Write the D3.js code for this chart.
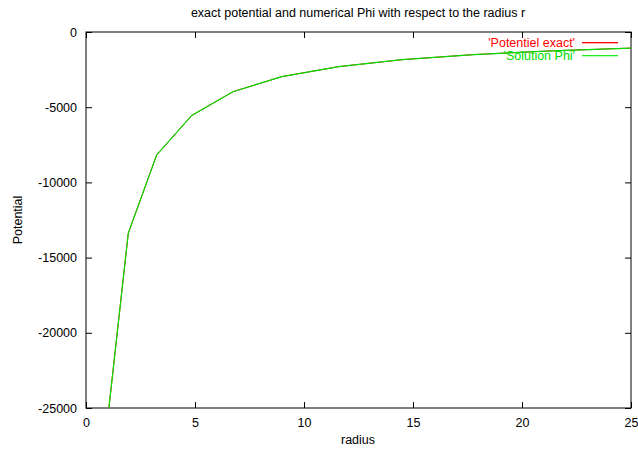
<!DOCTYPE html>
<html><head><meta charset="utf-8">
<script src="https://cdn.jsdelivr.net/npm/d3@7"></script>
<style>body{margin:0;background:#fff}svg{display:block}text{font-family:"Liberation Sans",Arial,sans-serif}</style>
</head><body><svg id="c" width="638" height="452"></svg>
<script>
const radius = [0.95, 1.94, 3.24, 4.85, 6.74, 8.98, 11.6, 14.5, 17.8, 21.4, 25.2];
const potentielExact = [-26300, -13380, -8180, -5550, -3970, -2970, -2300, -1840, -1500, -1250, -1060];
const solutionPhi = [-26300, -13370, -8175, -5545, -3968, -2968, -2298, -1838, -1498, -1249, -1059];
const xTicks = [0, 5, 10, 15, 20, 25];
const yTicks = [0, -5000, -10000, -15000, -20000, -25000];

const svg = d3.select("#c");
const L = 86, R = 631, T = 32, B = 408;
const x = d3.scaleLinear().domain([0, 25]).range([L, R]);
const y = d3.scaleLinear().domain([-25000, 0]).range([B, T]);
const fmt = d => String(d);

svg.append("defs").append("clipPath").attr("id", "clip")
  .append("rect").attr("x", L).attr("y", T).attr("width", R - L).attr("height", B - T);

const tl = 6, fs = 12.5;
svg.append("g").attr("transform", `translate(0,${B})`)
  .call(d3.axisBottom(x).tickValues(xTicks).tickSize(-tl).tickPadding(tl + 4).tickFormat(fmt))
  .call(g => { g.select(".domain").remove(); g.selectAll("text").attr("font-size", fs).attr("fill", "#000"); });
svg.append("g").attr("transform", `translate(0,${T})`)
  .call(d3.axisTop(x).tickValues(xTicks).tickSize(-tl).tickFormat(""))
  .call(g => g.select(".domain").remove());
svg.append("g").attr("transform", `translate(${L},0)`)
  .call(d3.axisLeft(y).tickValues(yTicks).tickSize(-tl).tickPadding(tl + 3).tickFormat(fmt))
  .call(g => { g.select(".domain").remove(); g.selectAll("text").attr("font-size", fs).attr("fill", "#000"); });
svg.append("g").attr("transform", `translate(${R},0)`)
  .call(d3.axisRight(y).tickValues(yTicks).tickSize(-tl).tickFormat(""))
  .call(g => g.select(".domain").remove());
svg.selectAll(".tick line").attr("stroke", "#000");

svg.append("rect").attr("x", L).attr("y", T).attr("width", R - L).attr("height", B - T)
  .attr("fill", "none").attr("stroke", "#000").attr("stroke-width", 1);

const line = d3.line().x((d, i) => x(radius[i])).y(d => y(d));
const plot = svg.append("g").attr("clip-path", "url(#clip)");
plot.append("path").datum(potentielExact).attr("d", line).attr("fill", "none").attr("stroke", "#ff0000").attr("stroke-width", 1);
plot.append("path").datum(solutionPhi).attr("d", line).attr("fill", "none").attr("stroke", "#00dd00").attr("stroke-width", 1.2);

const leg = [["'Potentiel exact'", "#ff0000"], ["'Solution Phi'", "#22ee22"]];
leg.forEach((d, i) => {
  const yy = 42.5 + i * 13;
  svg.append("text").attr("x", 575).attr("y", yy + 4).attr("text-anchor", "end").attr("font-size", 12.5).attr("fill", i ? "#00dd00" : d[1]).text(d[0]);
  svg.append("rect").attr("x", 582).attr("y", yy - 0.5).attr("width", 36).attr("height", 1.3).attr("fill", d[1]);
});

svg.append("text").attr("x", 358).attr("y", 17).attr("text-anchor", "middle").attr("font-size", fs).text("exact potential and numerical Phi with respect to the radius r");
svg.append("text").attr("x", 358).attr("y", 444).attr("text-anchor", "middle").attr("font-size", fs).text("radius");
svg.append("text").attr("transform", "translate(22,220) rotate(-90)").attr("text-anchor", "middle").attr("font-size", fs).text("Potential");
</script></body></html>
